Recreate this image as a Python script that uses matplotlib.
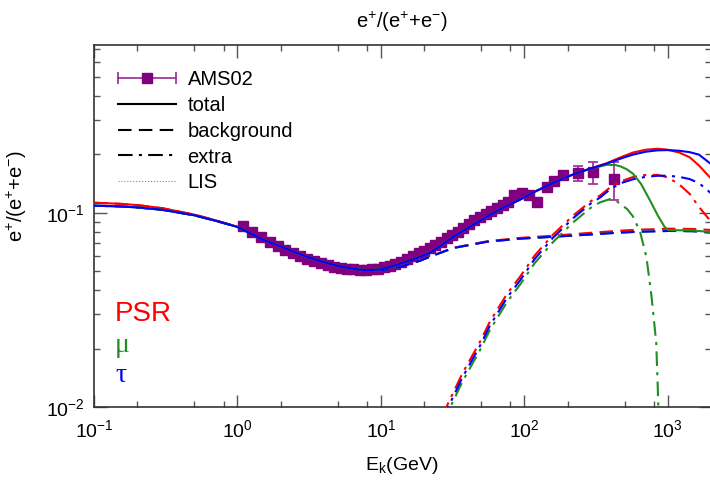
import matplotlib
matplotlib.use('Agg')
import matplotlib.pyplot as plt
from matplotlib.lines import Line2D
from matplotlib.legend_handler import HandlerLine2D
from matplotlib.ticker import LogLocator, NullFormatter

plt.rcParams['font.family'] = 'Liberation Sans'
plt.rcParams['mathtext.fontset'] = 'custom'
plt.rcParams['mathtext.rm'] = 'Liberation Sans'
plt.rcParams['mathtext.it'] = 'Liberation Sans:italic'

# AMS02 positron fraction
ams_e = [1.09, 1.27, 1.47, 1.68, 1.91, 2.16, 2.44, 2.74, 3.07, 3.43,
         3.83, 4.26, 4.73, 5.25, 5.82, 6.44, 7.12, 7.86, 8.66, 9.53,
         10.5, 11.5, 12.6, 13.9, 15.2, 16.7, 18.3, 20.0, 21.9, 24.0,
         26.3, 28.8, 31.5, 34.4, 37.6, 41.1, 44.9, 49.1, 53.7, 58.8,
         64.4, 70.6, 77.4, 85, 97, 108, 122, 143, 160, 185,
         235, 300, 420]
ams_f = [0.0850, 0.0797, 0.0748, 0.0707, 0.0671, 0.0641, 0.0617, 0.0596, 0.0578, 0.0562,
         0.0548, 0.0537, 0.0528, 0.0521, 0.0515, 0.0511, 0.0509, 0.0508, 0.0511, 0.0516,
         0.0523, 0.0533, 0.0546, 0.0560, 0.0577, 0.0596, 0.0617, 0.0638, 0.0660, 0.0684,
         0.0710, 0.0738, 0.0768, 0.0798, 0.0835, 0.0872, 0.0915, 0.0950, 0.0985, 0.1015,
         0.1060, 0.1100, 0.1140, 0.1240, 0.1270, 0.1240, 0.1130, 0.1360, 0.1450, 0.1570,
         0.1600, 0.1620, 0.1490]
ams_err = [0.0006, 0.0006, 0.0006, 0.0006, 0.0005, 0.0005, 0.0005, 0.0005, 0.0005, 0.0005,
           0.0005, 0.0005, 0.0005, 0.0005, 0.0005, 0.0005, 0.0005, 0.0005, 0.0005, 0.0005,
           0.0006, 0.0006, 0.0006, 0.0007, 0.0007, 0.0008, 0.0009, 0.0010, 0.0011, 0.0012,
           0.0013, 0.0014, 0.0015, 0.0017, 0.0018, 0.0020, 0.0022, 0.0024, 0.0026, 0.0029,
           0.0032, 0.0035, 0.0038, 0.0042, 0.0046, 0.0050, 0.0055, 0.0060, 0.0065, 0.0075,
           0.0140, 0.0210, 0.0330]

# total
e_tot = [0.1, 0.15, 0.2, 0.3, 0.5, 0.7, 1.0, 1.5, 2.0, 3.0, 4.0, 5.0, 6.0, 7.0, 8.0,
         10, 13, 18, 22, 25, 32, 40, 55, 70, 93, 120, 160, 210, 270]
tot_low_psr = [0.1126, 0.1112, 0.1095, 0.1055, 0.0978, 0.0915, 0.0847, 0.0729, 0.0670, 0.0595,
               0.0557, 0.0533, 0.0519, 0.0510, 0.0506, 0.0511, 0.0540, 0.0586, 0.0622, 0.0660,
               0.0752, 0.0830, 0.0955, 0.1055, 0.1167, 0.1290, 0.1427, 0.1555, 0.1660]
tot_low_tau = [0.1087, 0.1078, 0.1065, 0.1035, 0.0970, 0.0910, 0.0845, 0.0728, 0.0670, 0.0595,
               0.0557, 0.0533, 0.0519, 0.0510, 0.0506, 0.0511, 0.0540, 0.0586, 0.0622, 0.0660,
               0.0752, 0.0830, 0.0955, 0.1055, 0.1167, 0.1290, 0.1427, 0.1555, 0.1660]

e_tot_hi = [376, 470, 570, 700, 850, 1000, 1200, 1420, 1650, 2000]
tot_hi_psr = [0.1800, 0.1930, 0.2040, 0.2110, 0.2135, 0.2110, 0.2040, 0.1930, 0.1750, 0.1500]
tot_hi_tau = [0.1790, 0.1900, 0.1990, 0.2060, 0.2095, 0.2100, 0.2085, 0.2050, 0.1990, 0.1780]

e_tot_hi_mu = [330, 376, 430, 470, 520, 570, 650, 750, 850, 950, 1000, 1200, 1500, 2000]
tot_hi_mu = [0.1725, 0.1765, 0.1760, 0.1730, 0.1670, 0.1590, 0.1410, 0.1160, 0.0970, 0.0845,
             0.0815, 0.0812, 0.0810, 0.0795]

# background
e_bg = [0.1, 0.15, 0.2, 0.3, 0.5, 0.7, 1.0, 1.5, 2.0, 3.0, 4.0, 5.0, 6.0, 7.0, 8.0,
        10, 13, 18.7, 22, 32, 55, 93, 160, 270, 460, 630, 1030, 1500, 2000]
bg_psr = [0.1126, 0.1112, 0.1095, 0.1055, 0.0978, 0.0915, 0.0847, 0.0729, 0.0670, 0.0594,
          0.0555, 0.0531, 0.0516, 0.0507, 0.0503, 0.0505, 0.0521, 0.0566, 0.0594, 0.0660,
          0.0713, 0.0742, 0.0762, 0.0785, 0.0808, 0.0818, 0.0828, 0.0825, 0.0815]
bg_tau = [0.1087, 0.1078, 0.1065, 0.1035, 0.0970, 0.0910, 0.0845, 0.0728, 0.0670, 0.0594,
          0.0555, 0.0531, 0.0516, 0.0507, 0.0503, 0.0505, 0.0521, 0.0566, 0.0594, 0.0658,
          0.0709, 0.0735, 0.0752, 0.0770, 0.0790, 0.0798, 0.0806, 0.0803, 0.0790]

# extra component
e_ex = [27, 29.5, 37, 49, 57.5, 75.5, 93, 118, 158, 218, 290, 336, 394,
        463, 570, 700, 850, 1000, 1200, 1420, 1650, 2000]
ex_psr = [0.0090, 0.0105, 0.0149, 0.0216, 0.0275, 0.0381, 0.0467, 0.0602, 0.0770, 0.0965,
          0.1145, 0.1225, 0.1345, 0.1445, 0.1525, 0.1565, 0.1565, 0.1520, 0.1400, 0.1250,
          0.1070, 0.0900]
ex_tau = [0.0086, 0.0100, 0.0142, 0.0206, 0.0262, 0.0364, 0.0447, 0.0578, 0.0742, 0.0935,
          0.1115, 0.1195, 0.1315, 0.1415, 0.1485, 0.1530, 0.1550, 0.1550, 0.1530, 0.1490,
          0.1420, 0.1260]
e_ex_mu = [27, 29.5, 37, 49, 57.5, 75.5, 93, 118, 158, 218, 290, 336, 394,
           430, 520, 570, 640, 710, 770, 830, 850, 860]
ex_mu = [0.0082, 0.0095, 0.0135, 0.0196, 0.0249, 0.0346, 0.0425, 0.0550, 0.0705, 0.0890,
         0.1060, 0.1130, 0.1175, 0.1160, 0.1045, 0.0960, 0.0800, 0.0590, 0.0370, 0.0215,
         0.0130, 0.0095]

red = '#ff0000'
green = '#1f8f1f'
blue = '#0000ff'
purple = '#800080'
errc = '#9a2a9a'
lw = 1.5
dash_bg = (6.5, 3.5)
dash_ex = (7, 3, 1.5, 3)

fig = plt.figure(figsize=(7.1, 4.84), dpi=100)
ax = fig.add_axes([94 / 710, 77 / 484, 617 / 710, 362 / 484])
ax.set_xscale('log')
ax.set_yscale('log')

ax.errorbar(ams_e, ams_f, yerr=ams_err, fmt='s', color=purple, ms=6.5,
            ecolor=errc, elinewidth=1.2, capsize=3.5, capthick=1.2, zorder=2)

# background
ax.plot(e_bg, bg_psr, color=red, lw=lw, dashes=dash_bg, zorder=3)
ax.plot(e_bg, bg_tau, color=green, lw=lw, dashes=dash_bg, zorder=3)
ax.plot(e_bg, bg_tau, color=blue, lw=lw, dashes=dash_bg, zorder=3)

# extra
ax.plot(e_ex, ex_psr, color=red, lw=lw, dashes=dash_ex, zorder=3)
ax.plot(e_ex_mu, ex_mu, color=green, lw=lw, dashes=dash_ex, zorder=3)
ax.plot(e_ex, ex_tau, color=blue, lw=lw, dashes=dash_ex, zorder=3)

# total
ax.plot(e_tot + e_tot_hi, tot_low_psr + tot_hi_psr, color=red, lw=lw, zorder=4)
ax.plot(e_tot + e_tot_hi_mu, tot_low_tau + tot_hi_mu, color=green, lw=lw, zorder=4)
ax.plot(e_tot + e_tot_hi, tot_low_tau + tot_hi_tau, color=blue, lw=lw, zorder=4)

ax.set_xlim(0.1, 2000)
ax.set_ylim(0.01, 0.73)
ax.xaxis.set_major_locator(LogLocator(base=10, numticks=20))
ax.xaxis.set_minor_locator(LogLocator(base=10, subs=[2, 5, 8], numticks=20))
ax.yaxis.set_minor_locator(LogLocator(base=10, subs=range(2, 10), numticks=20))
ax.xaxis.set_minor_formatter(NullFormatter())
ax.yaxis.set_minor_formatter(NullFormatter())
ax.tick_params(which='both', direction='in', top=True, right=True, color='#555555', width=1)
ax.tick_params(which='major', length=9, labelsize=14)
ax.tick_params(axis='x', which='major', pad=9)
ax.tick_params(axis='y', which='major', pad=7)
ax.tick_params(which='minor', length=4.5)
for s in ax.spines.values():
    s.set_color('#333333')
    s.set_linewidth(1.2)

# legend
cap = Line2D([], [], color=errc, lw=1.2, marker='|', ms=8, mew=1.2)
sq = Line2D([], [], ls='none', marker='s', color=purple, ms=7)
h_tot = Line2D([], [], color='black', lw=lw)
h_bg = Line2D([], [], color='black', lw=lw, dashes=dash_bg)
h_ex = Line2D([], [], color='black', lw=lw, dashes=dash_ex)
h_lis = Line2D([], [], color='#888888', lw=0.8, ls=':')
ax.legend([(cap, sq), h_tot, h_bg, h_ex, h_lis],
          ['AMS02', 'total', 'background', 'extra', 'LIS'],
          handler_map={cap: HandlerLine2D(numpoints=2, marker_pad=0),
                       sq: HandlerLine2D(numpoints=1)},
          loc='upper left', bbox_to_anchor=(118 / 710, 1 - 70 / 484),
          bbox_transform=fig.transFigure, frameon=False, fontsize=14.5,
          handlelength=2.9, handletextpad=0.55, labelspacing=0.34,
          borderpad=0, borderaxespad=0)

# model labels
fig.text(115 / 710, 1 - 314 / 484, 'PSR', color=red, fontsize=20, va='center')
fig.text(115 / 710, 1 - 345 / 484, 'μ', color=green, fontsize=20, va='center',
         family='Liberation Serif')
fig.text(115 / 710, 1 - 376 / 484, 'τ', color=blue, fontsize=20, va='center',
         family='Liberation Serif')

fig.text(402 / 710, 1 - 22 / 484, r'$\mathdefault{e^{+}/(e^{+}{+}e^{-})}$',
         ha='center', va='center', fontsize=14.5)
fig.text(402 / 710, 1 - 465 / 484, r'$\mathdefault{E_{k}(GeV)}$',
         ha='center', va='center', fontsize=14)
fig.text(17 / 710, 1 - 196 / 484, r'$\mathdefault{e^{+}/(e^{+}{+}e^{-})}$',
         ha='center', va='center', rotation=90, fontsize=14.5)

fig.savefig('out.png', dpi=100)
